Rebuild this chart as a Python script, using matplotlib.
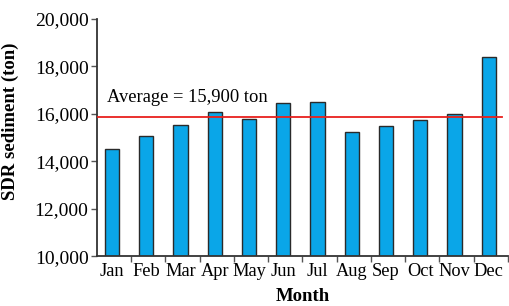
import numpy as np
from matplotlib import pyplot as plt

# -------------------------------------------------
# Data
# -------------------------------------------------
months = ["Jan", "Feb", "Mar", "Apr", "May", "Jun",
          "Jul", "Aug", "Sep", "Oct", "Nov", "Dec"]
sediment = [14500, 15070, 15530, 16060, 15780, 16460,
            16510, 15220, 15490, 15740, 15980, 18410]
average_line = 15850
average_label = "Average = 15,900 ton"
y_ticks = [10000, 12000, 14000, 16000, 18000, 20000]

plt.rcParams["font.family"] = ["Liberation Serif", "DejaVu Serif"]

fig = plt.figure(figsize=(5.1, 3.06), dpi=100)
ax = fig.add_axes([0.19, 0.163, 0.806, 0.775])

x = np.arange(len(months))
ax.bar(x, sediment, width=0.42, color="#0AA6E8",
       edgecolor="#2a2a2a", linewidth=1.0, zorder=2)

ax.axhline(average_line, xmin=0, xmax=0.985, color="#e8201c",
           linewidth=1.3, zorder=3)
ax.text(0.025, 0.67, average_label, transform=ax.transAxes,
        fontsize=13.3, va="center", ha="left")

ax.set_ylim(10000, 20000)
ax.set_xlim(-0.44, 11.56)
ax.set_yticks(y_ticks)
ax.set_yticklabels([f"{v:,}" for v in y_ticks], fontsize=14)

# month labels under bars, tick marks between slots
ax.set_xticks(x)
ax.set_xticklabels(months, fontsize=13.2)
ax.tick_params(axis="x", which="major", length=0, pad=5)
ax.set_xticks(x + 0.56, minor=True)
ax.tick_params(axis="x", which="minor", length=4, width=1, color="#555555")
ax.tick_params(axis="y", length=4, width=1, color="#555555", pad=2)

for side in ["top", "right"]:
    ax.spines[side].set_visible(False)
for side in ["left", "bottom"]:
    ax.spines[side].set_color("#333333")
    ax.spines[side].set_linewidth(1.3)

ax.set_xlabel("Month", fontsize=13.5, fontweight="bold", labelpad=6)
ax.set_ylabel("SDR sediment (ton)", fontsize=13.5, fontweight="bold", labelpad=5)
ax.yaxis.set_label_coords(-0.19, 0.57)

fig.savefig("out.png", dpi=100)
